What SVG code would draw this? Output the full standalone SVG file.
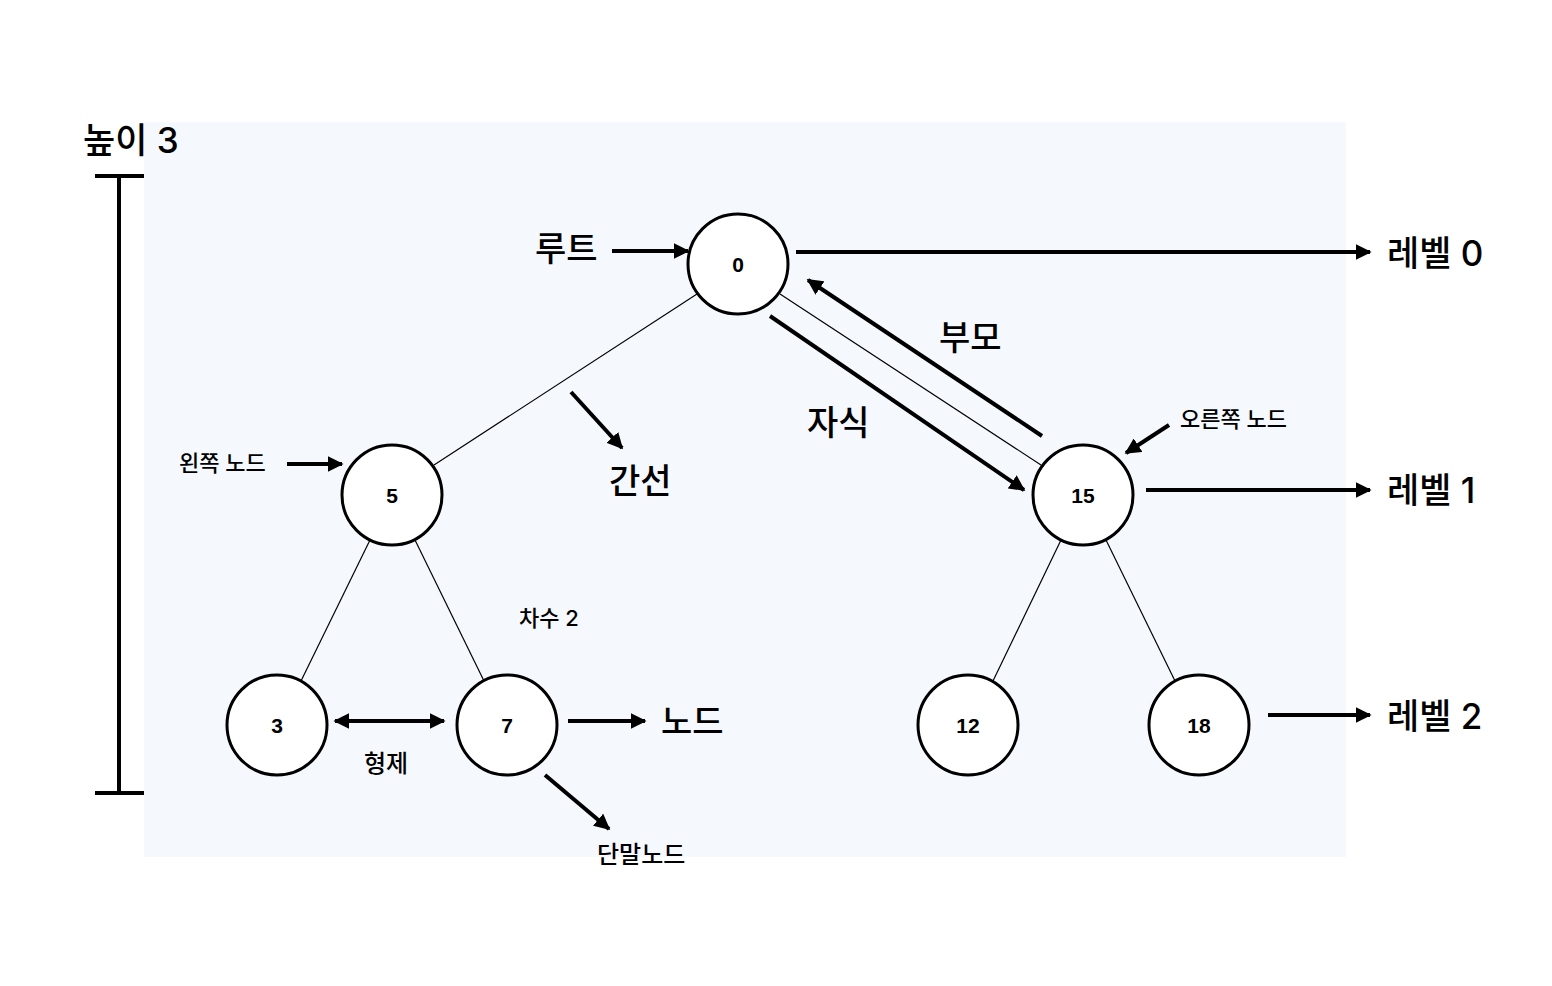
<svg xmlns="http://www.w3.org/2000/svg" width="1552" height="986" viewBox="0 0 1552 986">
<defs>
<style>
.node circle{fill:#fff;stroke:#000;stroke-width:3}
.node text{font-family:"Liberation Sans",Arial,sans-serif;font-weight:bold;font-size:21px;text-anchor:middle;fill:#000}
.edge{stroke:#000;stroke-width:1.2;fill:none}
.arr{stroke:#000;stroke-width:4;fill:none}
.big{font-family:Inter,"Noto Sans CJK KR","Noto Sans",sans-serif;font-size:35px;font-weight:500;fill:#000}
.lab{font-family:"Noto Sans CJK KR","Noto Sans",sans-serif;font-size:34px;font-weight:500;fill:#000}
.sm{font-family:Inter,"Noto Sans CJK KR","Noto Sans",sans-serif;font-size:22px;font-weight:500;fill:#000}
.md{font-family:"Noto Sans CJK KR","Noto Sans",sans-serif;font-size:24px;font-weight:500;fill:#000}
</style>
<marker id="ah" viewBox="0 0 10 10" refX="9" refY="5" markerWidth="4" markerHeight="4" orient="auto-start-reverse" markerUnits="strokeWidth">
<path d="M0,0 L10,5 L0,10 z" fill="#000"/>
</marker>
</defs>
<rect x="144" y="122" width="1202" height="735" fill="#f5f9fe"/>
<g id="connectors">
<line class="edge" x1="697" y1="294" x2="434" y2="465"/>
<line class="edge" x1="780" y1="294" x2="1041" y2="465"/>
<line class="edge" x1="370" y1="540" x2="300" y2="683"/>
<line class="edge" x1="415" y1="540" x2="485" y2="683"/>
<line class="edge" x1="1061" y1="540" x2="992" y2="683"/>
<line class="edge" x1="1106" y1="540" x2="1176" y2="683"/>
<line class="arr" x1="612" y1="251" x2="688" y2="251" marker-end="url(#ah)"/>
<line class="arr" x1="796" y1="252" x2="1370" y2="252" marker-end="url(#ah)"/>
<line class="arr" x1="1042" y1="436" x2="808" y2="280" marker-end="url(#ah)"/>
<line class="arr" x1="770" y1="316" x2="1024" y2="490" marker-end="url(#ah)"/>
<line class="arr" x1="571" y1="392" x2="622" y2="448" marker-end="url(#ah)"/>
<line class="arr" x1="1169" y1="425" x2="1126" y2="453" marker-end="url(#ah)"/>
<line class="arr" x1="287" y1="464" x2="342" y2="464" marker-end="url(#ah)"/>
<line class="arr" x1="1146" y1="490" x2="1370" y2="490" marker-end="url(#ah)"/>
<line class="arr" x1="335" y1="721" x2="444" y2="721" marker-start="url(#ah)" marker-end="url(#ah)"/>
<line class="arr" x1="568" y1="721" x2="645" y2="721" marker-end="url(#ah)"/>
<line class="arr" x1="545" y1="775" x2="609" y2="829" marker-end="url(#ah)"/>
<line class="arr" x1="1268" y1="715" x2="1370" y2="715" marker-end="url(#ah)"/>
<line class="arr" x1="119" y1="176" x2="119" y2="793"/>
<line class="arr" x1="95" y1="176" x2="144" y2="176"/>
<line class="arr" x1="95" y1="793" x2="144" y2="793"/>
</g>
<g id="n0" class="node"><circle cx="738" cy="264" r="50"/><text x="738" y="272">0</text></g>
<g id="n5" class="node"><circle cx="392" cy="495" r="50"/><text x="392" y="503">5</text></g>
<g id="n15" class="node"><circle cx="1083" cy="495" r="50"/><text x="1083" y="503">15</text></g>
<g id="n3" class="node"><circle cx="277" cy="725" r="50"/><text x="277" y="733">3</text></g>
<g id="n7" class="node"><circle cx="507" cy="725" r="50"/><text x="507" y="733">7</text></g>
<g id="n12" class="node"><circle cx="968" cy="725" r="50"/><text x="968" y="733">12</text></g>
<g id="n18" class="node"><circle cx="1199" cy="725" r="50"/><text x="1199" y="733">18</text></g>
<g id="labels">
<text class="big" x="83" y="153">높이 3</text>
<text class="big" x="1387" y="266">레벨 0</text>
<text class="big" x="1387" y="503">레벨 1</text>
<text class="big" x="1387" y="729">레벨 2</text>
<text class="lab" x="535" y="261">루트</text>
<text class="lab" x="939" y="350">부모</text>
<text class="lab" x="807" y="435">자식</text>
<text class="lab" x="609" y="493">간선</text>
<text class="lab" x="661" y="734">노드</text>
<text class="sm" x="179" y="471">왼쪽 노드</text>
<text class="sm" x="1180" y="427">오른쪽 노드</text>
<text class="sm" x="519" y="626">차수 2</text>
<text class="md" x="364" y="772">형제</text>
<text class="md" x="597" y="863">단말노드</text>
</g>
</svg>
